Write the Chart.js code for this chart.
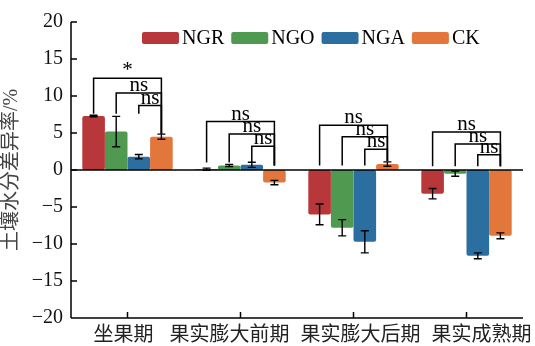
<!DOCTYPE html>
<html>
<head>
<meta charset="utf-8">
<script src="https://cdn.jsdelivr.net/npm/chart.js@4/dist/chart.umd.min.js"></script>
<style>
  html, body { margin: 0; padding: 0; background: #fff; }
  #wrap { width: 535px; height: 346px; }
</style>
</head>
<body>
<div id="wrap"><canvas id="c" width="535" height="346"></canvas></div>
<script>
// Growth stages
const categories = ['坐果期', '果实膨大前期', '果实膨大后期', '果实成熟期'];
const seriesNames = ['NGR', 'NGO', 'NGA', 'CK'];
const seriesColors = ['#B8373B', '#4F9A50', '#2A6F9F', '#E3763A'];

// Soil moisture difference rate (%) and standard errors
const ngr = [7.3, 0.1, -6.0, -3.2];
const ngrErr = [0.1, 0.15, 1.4, 0.7];
const ngo = [5.2, 0.6, -7.8, -0.5];
const ngoErr = [2.05, 0.15, 1.1, 0.35];
const nga = [1.8, 0.7, -9.7, -11.6];
const ngaErr = [0.3, 0.35, 1.5, 0.4];
const ck = [4.5, -1.7, 0.8, -8.9];
const ckErr = [0.35, 0.3, 0.3, 0.4];

// Y axis ticks
const yTicks = [20, 15, 10, 5, 0, -5, -10, -15, -20];

// Significance brackets vs CK per stage: bracket heights (NGR, NGO, NGA), labels,
// bottom of the treatment legs and bottom of the CK leg
const sigLevels = [[12.4, 10.4, 8.7], [6.55, 4.85, 3.2], [6.05, 4.5, 2.8], [5.15, 3.5, 2.05]];
const sigLabels = [['*', 'ns', 'ns'], ['ns', 'ns', 'ns'], ['ns', 'ns', 'ns'], ['ns', 'ns', 'ns']];
const sigLegLow = [7.6, 1.0, 0.6, 0.5];
const sigCkLow = [4.9, 0.6, 1.2, 0.5];

const values = [ngr, ngo, nga, ck];
const errors = [ngrErr, ngoErr, ngaErr, ckErr];

const SERIF = '"Liberation Serif", "Times New Roman", "Noto Sans CJK SC", serif';
// horizontal shift of each stage label relative to its tick
const labelShift = [-4, -11, 7, 15];

const axesPlugin = {
  id: 'axesPlugin',
  afterDatasetsDraw(chart) {
    const ctx = chart.ctx;
    const a = chart.chartArea;
    const y = chart.scales.y;
    const x = chart.scales.x;
    ctx.save();
    ctx.strokeStyle = '#000';
    ctx.lineWidth = 1.5;
    // y axis with inward ticks
    ctx.beginPath();
    ctx.moveTo(a.left, a.top);
    ctx.lineTo(a.left, a.bottom);
    yTicks.forEach(v => {
      const py = y.getPixelForValue(v);
      ctx.moveTo(a.left, py);
      ctx.lineTo(a.left + 6, py);
    });
    // bottom axis with inward ticks at category centres
    ctx.moveTo(a.left, a.bottom);
    ctx.lineTo(a.right, a.bottom);
    categories.forEach((c, i) => {
      const px = x.getPixelForValue(i);
      ctx.moveTo(px, a.bottom);
      ctx.lineTo(px, a.bottom - 6);
    });
    ctx.stroke();
    // zero line
    ctx.beginPath();
    const z = y.getPixelForValue(0);
    ctx.moveTo(a.left, z);
    ctx.lineTo(a.right, z);
    ctx.stroke();

    // stage labels
    ctx.fillStyle = '#222';
    ctx.font = '20px ' + SERIF;
    ctx.textAlign = 'center';
    ctx.textBaseline = 'top';
    categories.forEach((c, i) => {
      ctx.fillText(c, x.getPixelForValue(i) + labelShift[i], a.bottom + 8);
    });

    // error bars
    ctx.lineWidth = 1.4;
    values.forEach((vals, d) => {
      const meta = chart.getDatasetMeta(d);
      vals.forEach((v, i) => {
        const bx = meta.data[i].x;
        const e = errors[d][i];
        const y1 = y.getPixelForValue(v + e);
        const y2 = y.getPixelForValue(v - e);
        ctx.beginPath();
        ctx.moveTo(bx, y1); ctx.lineTo(bx, y2);
        ctx.moveTo(bx - 4, y1); ctx.lineTo(bx + 4, y1);
        ctx.moveTo(bx - 4, y2); ctx.lineTo(bx + 4, y2);
        ctx.stroke();
      });
    });

    // significance brackets
    ctx.lineWidth = 1.5;
    ctx.fillStyle = '#000';
    ctx.font = '21px ' + SERIF;
    ctx.textAlign = 'center';
    ctx.textBaseline = 'alphabetic';
    const ckMeta = chart.getDatasetMeta(3);
    categories.forEach((c, i) => {
      const rx = ckMeta.data[i].x;
      const rLow = y.getPixelForValue(sigCkLow[i]);
      for (let k = 0; k < 3; k++) {
        const lx = chart.getDatasetMeta(k).data[i].x;
        const ly = y.getPixelForValue(sigLevels[i][k]);
        const lLow = y.getPixelForValue(sigLegLow[i]);
        ctx.beginPath();
        ctx.moveTo(lx, lLow);
        ctx.lineTo(lx, ly);
        ctx.lineTo(rx, ly);
        ctx.lineTo(rx, rLow);
        ctx.stroke();
        ctx.fillText(sigLabels[i][k], (lx + rx) / 2, ly - 2);
      }
    });

    // legend inside the plot area
    ctx.font = '20px ' + SERIF;
    ctx.textAlign = 'left';
    ctx.textBaseline = 'middle';
    let lx = 142;
    const ly = 38;
    seriesNames.forEach((n, d) => {
      ctx.fillStyle = seriesColors[d];
      ctx.beginPath();
      ctx.roundRect(lx, ly - 6, 37, 12, 2);
      ctx.fill();
      ctx.fillStyle = '#000';
      ctx.fillText(n, lx + 40, ly + 1);
      lx += 40 + ctx.measureText(n).width + 7;
    });
    ctx.restore();
  }
};

new Chart(document.getElementById('c'), {
  type: 'bar',
  data: {
    labels: categories,
    datasets: seriesNames.map((n, d) => ({
      label: n,
      data: values[d],
      backgroundColor: seriesColors[d],
      borderRadius: 2,
      borderSkipped: false,
      categoryPercentage: 0.8,
      barPercentage: 1.0
    }))
  },
  options: {
    responsive: false,
    animation: false,
    devicePixelRatio: 1,
    layout: { padding: { top: 22, right: 12, left: 0, bottom: 0 } },
    plugins: { legend: { display: false }, tooltip: { enabled: false } },
    scales: {
      x: {
        grid: { display: false, drawTicks: false },
        border: { display: false },
        ticks: { display: false },
        afterFit(s) { s.height = 28; }
      },
      y: {
        min: -20, max: 20,
        grid: { display: false, drawTicks: false },
        border: { display: false },
        ticks: {
          stepSize: 5, padding: 8, color: '#111',
          font: { size: 20, family: SERIF },
          callback: v => String(v).replace('-', '\u2212')
        },
        title: {
          display: true, text: '土壤水分差异率/%', color: '#444',
          font: { size: 20, family: SERIF }, padding: 0
        },
        afterFit(s) { s.width = 71; }
      }
    }
  },
  plugins: [axesPlugin]
});
</script>
</body>
</html>
